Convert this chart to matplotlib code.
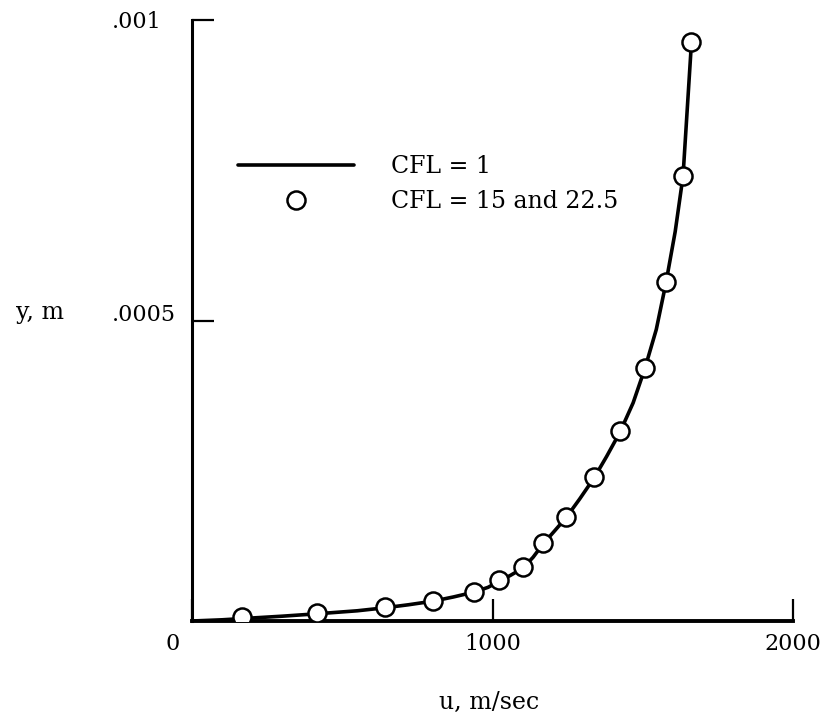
import matplotlib
matplotlib.use("Agg")
import matplotlib.pyplot as plt
from matplotlib.transforms import ScaledTranslation

# ---- data ----
line_u = [0, 100, 166, 300, 416, 550, 642, 720, 802, 870, 938, 985, 1022, 1060, 1101, 1135, 1168, 1205, 1245, 1290,
          1338, 1380, 1424, 1468, 1507, 1545, 1577, 1608, 1634, 1663]
line_y = [0.0, 0.000002, 0.000004, 0.000008, 0.000012, 0.000017, 0.000022, 0.000027, 0.000033, 0.00004, 0.000048,
          0.000056, 0.000066, 0.000076, 0.000088, 0.000106, 0.000128, 0.000149, 0.000172, 0.000203,
          0.000238, 0.000274, 0.000314, 0.000363, 0.00042, 0.000485, 0.000562, 0.000648, 0.00074, 0.00097]

pts_u = [166, 416, 642, 802, 938, 1022, 1101, 1168, 1245, 1338, 1424, 1507, 1577, 1634, 1661]
pts_y = [0.000007, 0.000013, 0.000023, 0.000033, 0.000048, 0.000068, 0.00009, 0.00013, 0.000173,
         0.00024, 0.000316, 0.000421, 0.000564, 0.00074, 0.000963]

xticks = [0, 1000, 2000]
xtick_labels = ["0", "1000", "2000"]
yticks = [0.0005, 0.001]
ytick_labels = [".0005", ".001"]

plt.rcParams['font.family'] = ['DejaVu Serif']
FS = 16
FS2 = 17

fig = plt.figure(figsize=(8.26, 7.2), dpi=100)
ax = fig.add_axes([192/826, 1-621/720, 601/826, 601/720])

ax.plot(line_u, line_y, color='black', lw=2.6, solid_capstyle='round', solid_joinstyle='round',
        label='CFL = 1', zorder=2)
ax.plot(pts_u, pts_y, linestyle='none', marker='o', ms=13, mfc='white', mec='black', mew=1.8,
        label='CFL = 15 and 22.5', zorder=3)

ax.set_xlim(0, 2000)
ax.set_ylim(0, 0.001)
for s in ['top', 'right']:
    ax.spines[s].set_visible(False)
ax.spines['left'].set_linewidth(2.2)
ax.spines['bottom'].set_linewidth(2.8)

ax.set_xticks(xticks)
ax.set_xticklabels(xtick_labels, fontsize=FS)
ax.set_yticks(yticks)
ax.set_yticklabels(ytick_labels, fontsize=FS, ha='left')
ax.tick_params(axis='x', direction='in', length=16, width=1.6, pad=9)
ax.tick_params(axis='y', direction='in', length=16, width=1.6, pad=58)
yl = ax.get_yticklabels()
yl[0].set_transform(yl[0].get_transform() + ScaledTranslation(0, 0.08, fig.dpi_scale_trans))
xl = ax.get_xticklabels()
xl[0].set_transform(xl[0].get_transform() + ScaledTranslation(-0.19, 0, fig.dpi_scale_trans))

ax.set_xlabel("u, m/sec", fontsize=FS2)
ax.xaxis.set_label_coords((489-192)/601, (621-702)/601)
ax.xaxis.label.set_va('center')
ax.set_ylabel("y, m", fontsize=FS2, rotation=0, ha='center', va='center')
ax.yaxis.set_label_coords((40-192)/601, (621-313)/601)

leg = ax.legend(loc='upper left', bbox_to_anchor=((238-192)/601, (621-155)/601), frameon=False,
                fontsize=FS2, handlelength=4.9, handletextpad=1.6, labelspacing=0.5, borderpad=0,
                borderaxespad=0)

fig.savefig("out.png", dpi=100)
